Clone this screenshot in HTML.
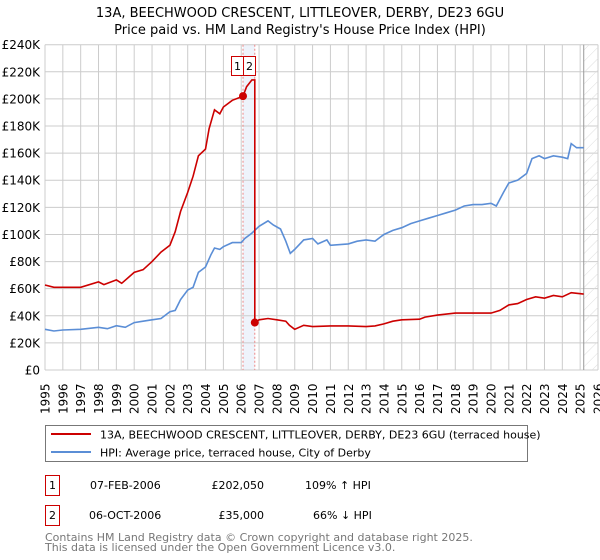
<!DOCTYPE html>
<html><head><meta charset="utf-8">
<style>
body{margin:0;background:#fff;font-family:"DejaVu Sans","Liberation Sans",sans-serif;}
#wrap{position:relative;width:600px;height:560px;overflow:hidden;}
</style></head>
<body>
<div id="wrap">
<svg id="chart" width="600" height="560" xmlns="http://www.w3.org/2000/svg" font-family="DejaVu Sans, Liberation Sans, sans-serif">
<text x="300" y="17" text-anchor="middle" font-size="13" fill="#000">13A, BEECHWOOD CRESCENT, LITTLEOVER, DERBY, DE23 6GU</text>
<text x="300" y="34" text-anchor="middle" font-size="13" fill="#000">Price paid vs. HM Land Registry's House Price Index (HPI)</text>
<g id="grid"></g>
<g id="marks"></g>
<g id="legend">
<rect x="45.5" y="425.5" width="482" height="36" fill="#fff" stroke="#777"/>
<line x1="51" y1="434" x2="91" y2="434" stroke="#cc0000" stroke-width="2"/>
<text x="100" y="438.5" font-size="11">13A, BEECHWOOD CRESCENT, LITTLEOVER, DERBY, DE23 6GU (terraced house)</text>
<line x1="51" y1="452" x2="91" y2="452" stroke="#5b8ed6" stroke-width="2"/>
<text x="100" y="456.5" font-size="11">HPI: Average price, terraced house, City of Derby</text>
</g>
<g id="table" font-size="11">
<rect x="45.5" y="475.5" width="14" height="20" fill="#fff" stroke="#cc0000"/>
<text x="52.5" y="489" text-anchor="middle">1</text>
<text x="90" y="489">07-FEB-2006</text>
<text x="264" y="489" text-anchor="end">£202,050</text>
<text x="305" y="489">109% ↑ HPI</text>
<rect x="45.5" y="505.5" width="14" height="20" fill="#fff" stroke="#cc0000"/>
<text x="52.5" y="519" text-anchor="middle">2</text>
<text x="89" y="519">06-OCT-2006</text>
<text x="264" y="519" text-anchor="end">£35,000</text>
<text x="313" y="519">66% ↓ HPI</text>
</g>
<text x="45" y="541" font-size="11" fill="#777">Contains HM Land Registry data © Crown copyright and database right 2025.</text>
<text x="45" y="551" font-size="11" fill="#777">This data is licensed under the Open Government Licence v3.0.</text>
</svg>
</div>
<script>
const yTicks = [0,20,40,60,80,100,120,140,160,180,200,220,240];
const yTickLabels = ["£0","£20K","£40K","£60K","£80K","£100K","£120K","£140K","£160K","£180K","£200K","£220K","£240K"];
const xYears = [1995,1996,1997,1998,1999,2000,2001,2002,2003,2004,2005,2006,2007,2008,2009,2010,2011,2012,2013,2014,2015,2016,2017,2018,2019,2020,2021,2022,2023,2024,2025,2026];
const hpiYears = [1995,1995.5,1996,1997,1998,1998.5,1999,1999.5,2000,2000.5,2001,2001.5,2002,2002.3,2002.6,2003,2003.3,2003.6,2004,2004.3,2004.5,2004.8,2005,2005.5,2006,2006.2,2006.6,2007,2007.5,2007.8,2008.2,2008.5,2008.75,2009,2009.5,2010,2010.3,2010.8,2011,2012,2012.5,2013,2013.5,2014,2014.5,2015,2015.5,2016,2016.5,2017,2017.5,2018,2018.5,2019,2019.5,2020,2020.3,2020.7,2021,2021.5,2022,2022.3,2022.7,2023,2023.5,2024,2024.3,2024.5,2024.8,2025.2];
const hpiValues = [30,28.8,29.5,30,31.5,30.5,32.7,31.5,35,36,37,38,43,44,52,59,61,72,76,85,90,89,91,94,94,97,101,106,110,107,104,95,86,89,96,97,93,96,92,93,95,96,95,100,103,105,108,110,112,114,116,118,121,122,122,123,121,131,138,140,145,156,158,156,158,157,156,167,164,164];
const priceYears = [1995,1995.5,1996,1997,1998,1998.3,1999,1999.3,2000,2000.5,2001,2001.5,2002,2002.3,2002.6,2003,2003.3,2003.6,2004,2004.2,2004.5,2004.8,2005,2005.5,2006.1,2006.3,2006.6,2006.76,2006.76,2007,2007.5,2008,2008.5,2008.7,2009,2009.5,2010,2011,2012,2013,2013.5,2014,2014.5,2015,2016,2016.3,2017,2018,2019,2020,2020.5,2021,2021.5,2022,2022.5,2023,2023.5,2024,2024.5,2025.2];
const priceValues = [62.7,61,61,61,65,63,66.5,64,72,74,80,87,92,102,117,131,143,158,163,178,192,189,194,199,202,209,214,214,35,37,38,37,36,33,30,33,32,32.5,32.5,32,32.5,34,36,37,37.5,39,40.5,42,42,42,44,48,49,52,54,53,55,54,57,56];
const saleYears = [2006.1,2006.76];
const saleValues = [202.05,35];
const saleLabels = ["1","2"];
const hatchStart = 2025.2;

const X0=45,X1=598,Y0=370,Y1=44.7;
const xs = y => X0 + (y-1995)/(2026-1995)*(X1-X0);
const ys = v => Y0 - v/240*(Y0-Y1);
const NS="http://www.w3.org/2000/svg";
function mk(tag,attrs,parent){const e=document.createElementNS(NS,tag);for(const k in attrs)e.setAttribute(k,attrs[k]);parent.appendChild(e);return e;}
const grid=document.getElementById('grid'), marks=document.getElementById('marks');

const band=mk('rect',{x:xs(saleYears[0]),y:Y1,width:xs(saleYears[1])-xs(saleYears[0]),height:Y0-Y1,fill:'#eef3fb'},grid);



yTicks.forEach((t,i)=>{
  const l=mk('line',{x1:X0,x2:X1,y1:ys(t),y2:ys(t),stroke:'#ccc','stroke-width':1},grid);
  
  
  const tx=mk('text',{x:X0-5,y:ys(t)+4.5,'text-anchor':'end','font-size':12},grid);
  tx.textContent=yTickLabels[i];
  
  
});
xYears.forEach(yr=>{
  const l=mk('line',{x1:xs(yr),x2:xs(yr),y1:Y1,y2:Y0,stroke:'#ccc','stroke-width':1},grid);
  
  
  const tx=mk('text',{x:0,y:0,'font-size':12,transform:`translate(${xs(yr)+4.5},${Y0+44}) rotate(-90)`},grid);
  tx.textContent=yr;
  
  
});
const defs=mk('defs',{},grid);
const pat=mk('pattern',{id:'hatch',width:8,height:8,patternUnits:'userSpaceOnUse',patternTransform:'rotate(45)'},defs);
mk('line',{x1:0,y1:0,x2:0,y2:8,stroke:'#ddd','stroke-width':1},pat);
const hr=mk('rect',{x:xs(hatchStart),y:Y1,width:X1-xs(hatchStart),height:Y0-Y1,fill:'url(#hatch)'},grid);


const hl=mk('line',{x1:xs(hatchStart),x2:xs(hatchStart),y1:Y1,y2:Y0,stroke:'#999','stroke-width':1},grid);



saleYears.forEach((yr,i)=>{
  const l=mk('line',{x1:xs(yr),x2:xs(yr),y1:Y1,y2:Y0,stroke:'#e88','stroke-width':1,'stroke-dasharray':'2,2'},grid);
  
  
});

function line(xsArr,vals){return xsArr.map((y,i)=>(i?'L':'M')+xs(y).toFixed(1)+','+ys(vals[i]).toFixed(1)).join('');}
const hp=mk('path',{d:line(hpiYears,hpiValues),fill:'none',stroke:'#5b8ed6','stroke-width':1.6},marks);


const pp=mk('path',{d:line(priceYears,priceValues),fill:'none',stroke:'#cc0000','stroke-width':1.6},marks);



saleYears.forEach((yr,i)=>{
  const c=mk('circle',{cx:xs(yr),cy:ys(saleValues[i]),r:4,fill:'#cc0000'},marks);
  
  
  const bx=xs(saleYears[0])+(i===0?-12:0);
  const r=mk('rect',{x:bx+0.5,y:56.5,width:12,height:19,fill:'#fff',stroke:'#cc0000'},marks);
  
  
  const t=mk('text',{x:bx+6.5,y:70,'text-anchor':'middle','font-size':11},marks);
  t.textContent=saleLabels[i];
  
  
});
</script>
</body></html>
